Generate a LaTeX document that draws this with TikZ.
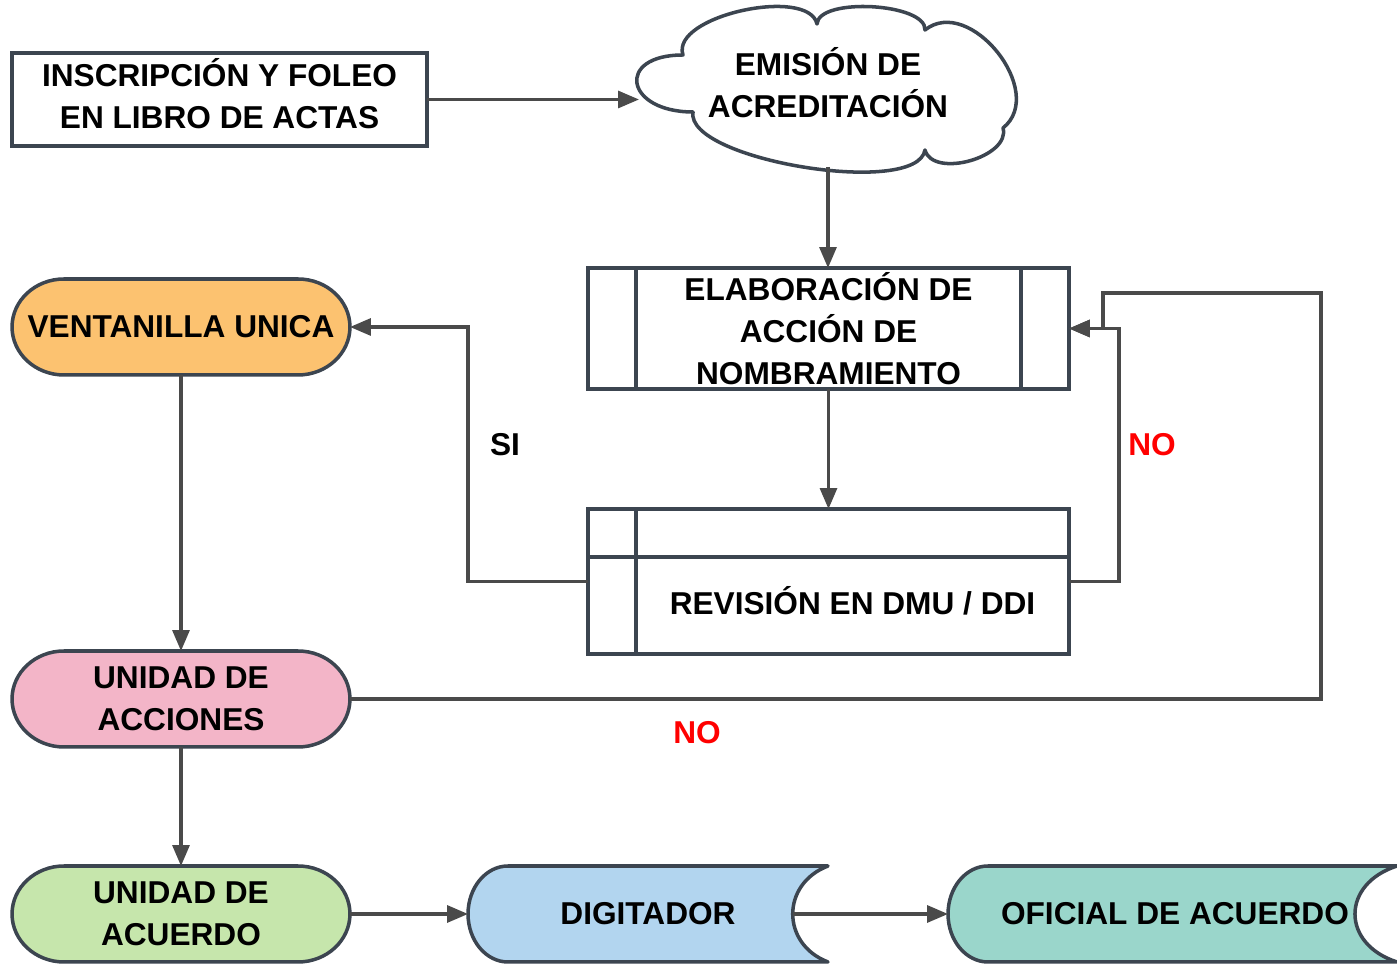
\documentclass[tikz,border=0pt]{standalone}
\usepackage{fontspec}
\setmainfont{Liberation Sans}
\usetikzlibrary{arrows.meta,calc,backgrounds}
\definecolor{bord}{HTML}{3C4550}
\definecolor{conncol}{HTML}{4A4A4A}
\definecolor{cOrange}{HTML}{FCC270}
\definecolor{cPink}{HTML}{F3B5C8}
\definecolor{cGreen}{HTML}{C6E6AC}
\definecolor{cBlue}{HTML}{B2D5EF}
\definecolor{cTeal}{HTML}{9AD6CB}
\definecolor{noRed}{HTML}{FF0000}
\begin{document}
\begin{tikzpicture}[x=0.02cm,y=0.02cm,
  every node/.style={font=\fontsize{18}{23.8}\selectfont\bfseries, align=center, inner sep=0pt, outer sep=0pt},
  box/.style={draw=bord, line width=2pt, fill=white},
  conn/.style={draw=conncol, line width=1.8pt, -{Triangle[length=0.42cm,width=0.34cm]}},
  shp/.style={draw=bord, line width=2pt, line join=round},
  stad/.style={minimum width=6.76cm, minimum height=1.92cm}
]
\useasboundingbox (0,0) rectangle (1397,966);
\begin{scope}[on background layer]
\fill[white] (0,0) rectangle (1397,966);
\end{scope}

% top row
\node[box, minimum width=8.3cm, minimum height=1.86cm] (ins) at (219.5,866.5) {};
\node (inst) at (219.5,872.5) {INSCRIPCIÓN Y FOLEO\\EN LIBRO DE ACTAS};

% cloud
\draw[shp, fill=white] (693,854)
  .. controls (625,854) and (615,911) .. (683,911)
  .. controls (670,950) and (808.5,980) .. (817,942)
  .. controls (818.5,969) and (926.5,963) .. (925,936)
  .. controls (969.7,971.6) and (1047.7,873.6) .. (1003,838)
  .. controls (1011,809) and (933,787) .. (925,816)
  .. controls (917,768) and (685,806) .. (693,854) -- cycle;
\node (cl) at (828,883) {EMISIÓN DE\\ACREDITACIÓN};
\coordinate (clw) at (639,866.5);
\coordinate (cls) at (828,799);

% process boxes
\node[box, minimum width=9.62cm, minimum height=2.42cm] (el) at (828.5,637.5) {ELABORACIÓN DE\\ACCIÓN DE\\NOMBRAMIENTO};
\node[box, minimum width=9.62cm, minimum height=2.9cm] (rv) at (828.5,384.5) {};
\node (rvt) at (852.5,365) {REVISIÓN EN DMU / DDI};
\draw[shp] ([xshift=0.96cm]el.north west) -- ([xshift=0.96cm]el.south west);
\draw[shp] ([xshift=-0.96cm]el.north east) -- ([xshift=-0.96cm]el.south east);
\draw[shp] ([xshift=0.96cm]rv.north west) -- ([xshift=0.96cm]rv.south west);
\draw[shp] ([yshift=-0.96cm]rv.north west) -- ([yshift=-0.96cm]rv.north east);

% stadium nodes
\node[stad] (va) at (181,639) {VENTANILLA UNICA};
\node[stad] (ua) at (181,267) {UNIDAD DE\\ACCIONES};
\node[stad] (uc) at (181,52) {UNIDAD DE\\ACUERDO};
\node[minimum width=7.2cm, minimum height=1.92cm] (dg) at (648,52) {DIGITADOR};
\node[minimum width=8.98cm, minimum height=1.92cm] (of) at (1172.5,52) {\hspace*{0.1cm}OFICIAL DE ACUERDO};

\begin{scope}[on background layer]
\foreach \n/\c in {va/cOrange, ua/cPink, uc/cGreen}{
  \draw[shp, fill=\c] ([xshift=1.04cm]\n.north west) -- ([xshift=-1.04cm]\n.north east)
    arc[start angle=90, end angle=-90, x radius=1.04cm, y radius=0.96cm]
    -- ([xshift=1.04cm]\n.south west)
    arc[start angle=270, end angle=90, x radius=1.04cm, y radius=0.96cm] -- cycle;
}
\draw[shp, fill=cBlue] ([xshift=0.8cm]dg.north west) -- (dg.north east)
   .. controls +(-0.94cm,-0.36cm) and +(-0.94cm,0.36cm) .. (dg.south east)
   -- ([xshift=0.8cm]dg.south west)
   arc[start angle=270, end angle=90, x radius=0.8cm, y radius=0.96cm] -- cycle;
\draw[shp, fill=cTeal] ([xshift=0.8cm]of.north west) -- (of.north east)
   .. controls +(-1.12cm,-0.36cm) and +(-1.12cm,0.36cm) .. (of.south east)
   -- ([xshift=0.8cm]of.south west)
   arc[start angle=270, end angle=90, x radius=0.8cm, y radius=0.96cm] -- cycle;
\end{scope}

% connectors
\draw[conn] (ins.east) -- (clw);
\draw[conn] (cls) -- (cls |- el.north);
\draw[conn] (el.south) -- (rv.north);
\draw[conn] (rv.west) -| ($(va.east)+(118,0)$) -- (va.east);
\draw[conn] (rv.east) -| ($(el.east)+(50,0)$) -- (el.east);
\draw[conn] (ua.east) -| (1321,673) -| (1103,637.5) -- (el.east);
\draw[conn] (va.south) -- (ua.north);
\draw[conn] (ua.south) -- (uc.north);
\draw[conn] (uc.east) -- (dg.west);
\draw[conn] ([xshift=-0.7cm]dg.east) -- (of.west);

% labels
\node (si) at (505,521) {SI};
\node[text=noRed] (no1) at (1152,521) {NO};
\node[text=noRed] (no2) at (697,233) {NO};
\end{tikzpicture}
\end{document}
